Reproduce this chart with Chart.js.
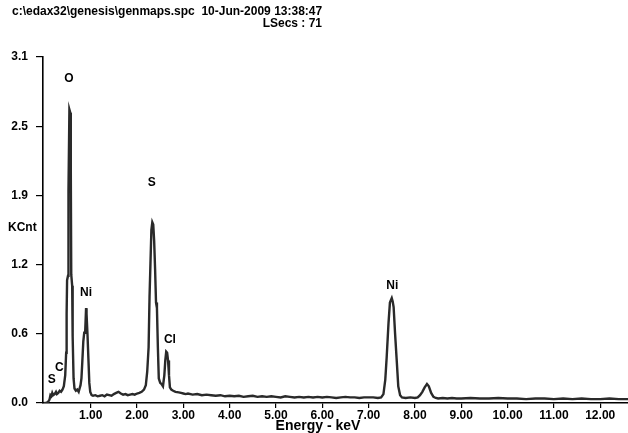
<!DOCTYPE html>
<html>
<head>
<meta charset="utf-8">
<script src="https://cdn.jsdelivr.net/npm/chart.js@4/dist/chart.umd.min.js"></script>
<style>
  html, body { margin: 0; padding: 0; background: #fff; }
  canvas { display: block; }
</style>
</head>
<body>
<canvas id="spectrum" width="628" height="433"></canvas>
<script>
// EDS spectrum, energy (keV) vs counts (KCnt)
const energy = [
  0.00, 0.04, 0.08, 0.11, 0.13, 0.15, 0.17, 0.19, 0.22, 0.25, 0.27, 0.30, 0.33, 0.36, 0.39, 0.42,
  0.45, 0.47, 0.48, 0.49, 0.51, 0.52, 0.54, 0.56, 0.57, 0.58, 0.60, 0.61, 0.63, 0.65, 0.68, 0.71,
  0.74, 0.76, 0.78, 0.80, 0.82, 0.84, 0.86, 0.88, 0.90, 0.91, 0.93, 0.95, 0.97, 0.99, 1.02,
  1.05, 1.10, 1.15, 1.20, 1.25, 1.30, 1.35, 1.40, 1.45, 1.50, 1.55, 1.60, 1.65, 1.70, 1.75, 1.80,
  1.85, 1.90, 1.95, 2.00, 2.05, 2.10, 2.15, 2.19, 2.22, 2.25, 2.27, 2.29, 2.31, 2.33, 2.35, 2.37,
  2.39, 2.41, 2.43, 2.45, 2.47, 2.50, 2.53, 2.56, 2.59, 2.61, 2.63, 2.65, 2.67, 2.69, 2.71, 2.74,
  2.78, 2.83, 2.90, 2.95, 3.00, 3.05, 3.10, 3.20, 3.30, 3.40, 3.50, 3.60, 3.70, 3.80, 3.90, 4.00,
  4.10, 4.20, 4.30, 4.40, 4.50, 4.60, 4.70, 4.80, 4.90, 5.00, 5.10, 5.20, 5.30, 5.40, 5.50, 5.60,
  5.70, 5.80, 5.90, 6.00, 6.10, 6.20, 6.30, 6.40, 6.50, 6.60, 6.70, 6.80, 6.90, 7.00, 7.10, 7.20,
  7.27, 7.32, 7.36, 7.39, 7.43, 7.46, 7.48, 7.50, 7.52, 7.54, 7.57, 7.61, 7.64, 7.68, 7.72, 7.80,
  7.90, 8.00, 8.06, 8.11, 8.16, 8.21, 8.26, 8.30, 8.35, 8.40, 8.45, 8.50, 8.60, 8.70, 8.80, 8.90,
  9.00, 9.20, 9.40, 9.60, 9.80, 10.00, 10.20, 10.40, 10.60, 10.80, 11.00, 11.20, 11.40, 11.60,
  11.80, 12.00, 12.20, 12.40, 12.60
];
const counts = [
  0.00, 0.00, 0.01, 0.03, 0.07, 0.06, 0.09, 0.07, 0.08, 0.10, 0.08, 0.09, 0.11, 0.10, 0.12, 0.15,
  0.25, 0.45, 0.80, 1.10, 1.14, 1.90, 2.63, 2.60, 2.10, 1.15, 1.05, 0.60, 0.22, 0.13, 0.11, 0.12,
  0.10, 0.13, 0.16, 0.22, 0.38, 0.55, 0.63, 0.63, 0.85, 0.80, 0.62, 0.40, 0.18, 0.10, 0.07,
  0.065, 0.07, 0.06, 0.065, 0.07, 0.06, 0.075, 0.07, 0.065, 0.08, 0.09, 0.10, 0.085, 0.075, 0.08, 0.07,
  0.075, 0.08, 0.075, 0.085, 0.09, 0.10, 0.12, 0.16, 0.28, 0.50, 0.95, 1.25, 1.55, 1.62, 1.60, 1.45,
  1.20, 0.90, 0.85, 0.50, 0.22, 0.18, 0.17, 0.15, 0.25, 0.38, 0.46, 0.45, 0.38, 0.25, 0.14, 0.12,
  0.11, 0.10, 0.095, 0.09, 0.085, 0.08, 0.085, 0.075, 0.08, 0.07, 0.075, 0.07, 0.065, 0.07, 0.06, 0.065,
  0.06, 0.065, 0.055, 0.06, 0.065, 0.055, 0.06, 0.055, 0.06, 0.055, 0.05, 0.06, 0.055, 0.05, 0.055, 0.05,
  0.055, 0.05, 0.055, 0.05, 0.055, 0.05, 0.045, 0.05, 0.055, 0.05, 0.05, 0.045, 0.05, 0.05, 0.05, 0.045,
  0.05, 0.08, 0.21, 0.41, 0.72, 0.90, 0.92, 0.94, 0.91, 0.86, 0.63, 0.36, 0.15, 0.07, 0.05, 0.045,
  0.05, 0.045, 0.05, 0.07, 0.10, 0.14, 0.17, 0.15, 0.09, 0.055, 0.045, 0.04, 0.045, 0.04, 0.045, 0.04,
  0.04, 0.045, 0.04, 0.04, 0.045, 0.04, 0.04, 0.035, 0.04, 0.04, 0.035, 0.04, 0.035, 0.04,
  0.035, 0.035, 0.04, 0.035, 0.035
];

// element markers: name, energy, label height
const peakNames  = ['S', 'C', 'O', 'Ni', 'S', 'Cl', 'Ni'];
const peakEnergy = [0.16, 0.32, 0.53, 0.90, 2.32, 2.71, 7.51];
const peakLevel  = [0.21, 0.32, 2.91, 0.99, 1.97, 0.57, 1.05];

const yTicks = [0, 0.62, 1.24, 1.86, 2.48, 3.1];
const xTicks = [1, 2, 3, 4, 5, 6, 7, 8, 9, 10, 11, 12];

const headerLine1 = 'c:\\edax32\\genesis\\genmaps.spc  10-Jun-2009 13:38:47';
const headerLine2 = 'LSecs : 71';

const FONT = '"Liberation Sans", Arial, sans-serif';

const points = energy.map((e, i) => ({ x: e, y: counts[i] }));

const labelsPlugin = {
  id: 'edaxLabels',
  afterDraw(chart) {
    const ctx = chart.ctx;
    const xs = chart.scales.x, ys = chart.scales.y;
    ctx.save();
    ctx.fillStyle = '#000';
    ctx.textBaseline = 'middle';

    // header
    ctx.font = 'bold 12px ' + FONT;
    ctx.textAlign = 'left';
    ctx.fillText(headerLine1, 12, 12);
    ctx.textAlign = 'right';
    ctx.fillText(headerLine2, 322, 24);

    // axis names
    ctx.textAlign = 'left';
    ctx.fillText('KCnt', 8, 228);
    ctx.font = 'bold 14px ' + FONT;
    ctx.textAlign = 'center';
    ctx.fillText('Energy - keV', 318, 426);

    // peak labels
    ctx.font = 'bold 12px ' + FONT;
    peakNames.forEach((n, i) => {
      ctx.fillText(n, xs.getPixelForValue(peakEnergy[i]), ys.getPixelForValue(peakLevel[i]));
    });
    ctx.restore();
  }
};

new Chart(document.getElementById('spectrum'), {
  type: 'line',
  data: {
    datasets: [
      { data: points, borderColor: '#2a2a2a', borderWidth: 2.4, pointRadius: 0, tension: 0 },
      { data: points, borderColor: '#a0a0a0', borderWidth: 0.8, pointRadius: 0, tension: 0 }
    ]
  },
  options: {
    responsive: false,
    animation: false,
    layout: { padding: { top: 57, left: 0, right: 0, bottom: 0 } },
    plugins: { legend: { display: false }, tooltip: { enabled: false } },
    scales: {
      x: {
        type: 'linear',
        min: -0.03,
        max: 12.6,
        afterFit: s => { s.height = 30; },
        afterBuildTicks: s => { s.ticks = xTicks.map(v => ({ value: v })); },
        ticks: {
          color: '#000',
          font: { family: FONT, size: 12, weight: 'bold' },
          padding: 0,
          maxRotation: 0,
          autoSkip: false,
          callback: v => v.toFixed(2)
        },
        grid: { drawOnChartArea: false, drawTicks: true, tickLength: 5, color: '#000', lineWidth: 1.2 },
        border: { color: '#000', width: 1.6 }
      },
      y: {
        min: 0,
        max: 3.1,
        afterFit: s => { s.width = 43; },
        afterBuildTicks: s => { s.ticks = yTicks.map(v => ({ value: v })); },
        ticks: {
          color: '#000',
          font: { family: FONT, size: 12, weight: 'bold' },
          padding: 8,
          callback: v => v.toFixed(1)
        },
        grid: { drawOnChartArea: false, drawTicks: true, tickLength: 7, color: '#000', lineWidth: 1.2 },
        border: { color: '#000', width: 1.6 }
      }
    }
  },
  plugins: [labelsPlugin]
});
</script>
</body>
</html>
